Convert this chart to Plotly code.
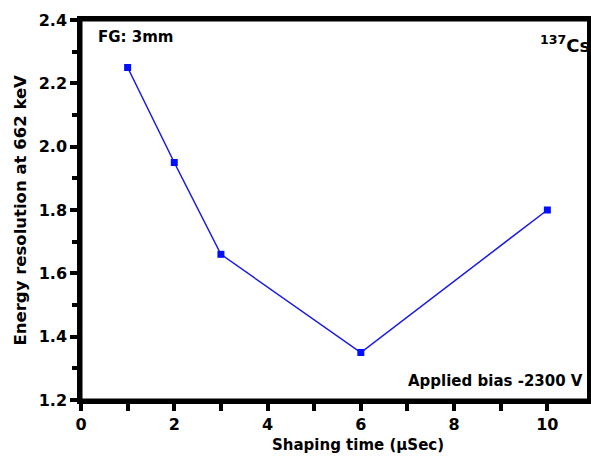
import plotly.graph_objects as go

shaping_time = [1, 2, 3, 6, 10]
energy_res = [2.25, 1.95, 1.66, 1.35, 1.80]
x_ticks = [0, 1, 2, 3, 4, 5, 6, 7, 8, 9, 10]
x_labels = ["0", "", "2", "", "4", "", "6", "", "8", "", "10"]
y_ticks = [1.2, 1.4, 1.6, 1.8, 2.0, 2.2, 2.4]

font_family = "DejaVu Sans, Arial, sans-serif"

fig = go.Figure()
fig.add_trace(go.Scatter(
    x=shaping_time, y=energy_res, mode="lines+markers",
    line=dict(color="#1a1ae6", width=1.5),
    marker=dict(symbol="square", size=7, color="#0010ff"),
    showlegend=False, cliponaxis=False,
))

fig.update_xaxes(
    range=[0, 10.85], tickvals=x_ticks,
    ticktext=[f"<b>{t}</b>" if t else "" for t in x_labels],
    showline=True, linecolor="rgb(0,0,0)", linewidth=3.5, mirror=True,
    ticks="outside", ticklen=7, tickwidth=3.5, tickcolor="rgb(0,0,0)",
    showgrid=False, zeroline=False,
    tickfont=dict(family=font_family, size=16, color="black"),
)
fig.update_yaxes(
    range=[1.2, 2.4], tickvals=y_ticks, ticktext=[f"<b>{v:.1f}</b>" for v in y_ticks],
    showline=True, linecolor="rgb(0,0,0)", linewidth=3.5, mirror=True,
    ticks="outside", ticklen=7, tickwidth=3.5, tickcolor="rgb(0,0,0)",
    minor=dict(ticks="outside", ticklen=5, tickwidth=3.5, tickcolor="rgb(0,0,0)", dtick=0.1, tick0=1.2, showgrid=False),
    showgrid=False, zeroline=False,
    tickfont=dict(family=font_family, size=16, color="black"),
)

# frame drawn again as a shape so the thick spines are guaranteed
fig.add_shape(type="rect", xref="paper", yref="paper", x0=0, x1=1.2, y0=0, y1=1,
              line=dict(color="black", width=3), layer="above")

plot_w = 591 - 81
plot_h = 458 - 20 - 58

fig.add_annotation(x=(360 - 81) / plot_w, y=(458 - 58 - 445) / plot_h, xref="paper", yref="paper",
                   xanchor="center", yanchor="middle", text="<b>Shaping time (μSec)</b>",
                   showarrow=False, font=dict(family=font_family, size=15, color="black"))
fig.add_annotation(x=(20 - 81) / plot_w, y=0.5, xref="paper", yref="paper",
                   xanchor="center", yanchor="middle", text="<b>Energy resolution at 662 keV</b>",
                   showarrow=False, textangle=-90, font=dict(family=font_family, size=16.5, color="black"))

fig.add_annotation(x=0.03, y=0.985, xref="paper", yref="paper", xanchor="left", yanchor="top",
                   text="<b>FG: 3mm</b>", showarrow=False,
                   font=dict(family=font_family, size=15, color="black"))
fig.add_annotation(x=1.01, y=0.975, xref="paper", yref="paper", xanchor="right", yanchor="top",
                   text="<b><sup>137</sup>Cs</b>", showarrow=False,
                   font=dict(family=font_family, size=18, color="black"))
fig.add_annotation(x=0.997, y=0.02, xref="paper", yref="paper", xanchor="right", yanchor="bottom",
                   text="<b>Applied bias -2300 V</b>", showarrow=False,
                   font=dict(family=font_family, size=15, color="black"))

fig.update_layout(
    width=591, height=458,
    margin=dict(l=81, r=0, t=20, b=58),
    paper_bgcolor="white", plot_bgcolor="white",
)

fig.write_html("out.html")
